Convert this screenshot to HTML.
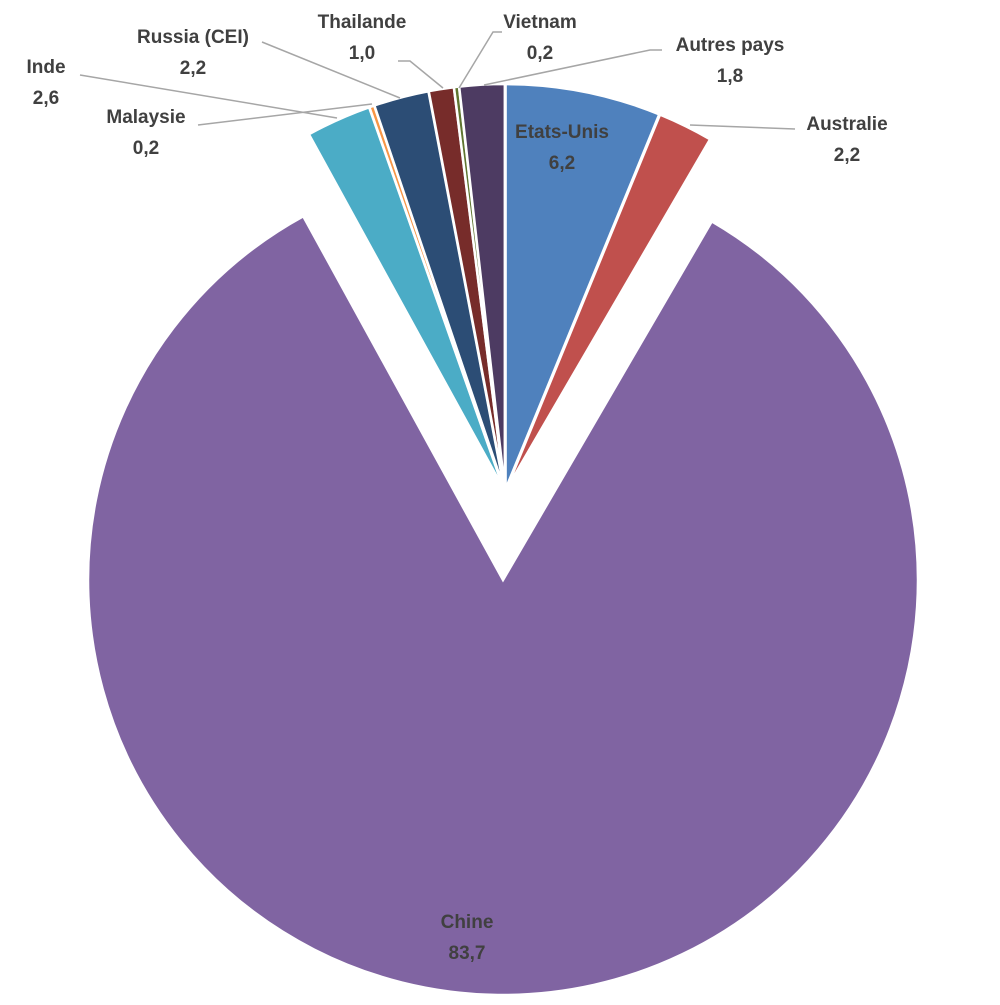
<!DOCTYPE html>
<html><head><meta charset="utf-8"><style>
html,body{margin:0;padding:0;background:#fff}
svg{display:block}
text{font-family:"Liberation Sans",sans-serif;font-weight:bold;font-size:19px;fill:#404040}
</style></head><body>
<svg id="chart" width="1000" height="1005" viewBox="0 0 1000 1005">
<g id="slices"></g>
<g id="leaders" stroke="#a6a6a6" stroke-width="1.5" fill="none">
<polyline points="80,75 337,118"/>
<polyline points="198,125 372,104"/>
<polyline points="262,42 400,98"/>
<polyline points="398,61 410,61 443,88"/>
<polyline points="502,32 493,32 459,88"/>
<polyline points="662,50 650,50 484,85"/>
<polyline points="795,129 690,125"/>
</g>
<g id="labels" text-anchor="middle"></g>
</svg>
<script>
const categories=["Etats-Unis","Australie","Chine","Inde","Malaysie","Russia (CEI)","Thailande","Vietnam","Autres pays"];
const values=[6.2,2.2,83.7,2.6,0.2,2.2,1.0,0.2,1.8];
const valueLabels=["6,2","2,2","83,7","2,6","0,2","2,2","1,0","0,2","1,8"];
const colors=["#4f81bd","#c0504d","#8064a2","#4bacc6","#f79646","#2c4d75","#772c2a","#5f7530","#4d3b62"];
const labelPos=[[562,138],[847,130],[467,928],[46,73],[146,123],[193,43],[362,28],[540,28],[730,51]];
const NS="http://www.w3.org/2000/svg";
const total=values.reduce((a,b)=>a+b,0);
function pt(cx,cy,a,r){return [cx+r*Math.sin(a),cy-r*Math.cos(a)];}
const g=document.getElementById('slices');
let acc=0;
values.forEach((v,i)=>{
  const a0=acc/total*2*Math.PI; acc+=v; const a1=acc/total*2*Math.PI;
  const mid=(a0+a1)/2;
  let cx,cy,R;
  if(i===2){cx=503;cy=580;R=415;}else{cx=505+3*Math.sin(mid);cy=492-3*Math.cos(mid);R=405;}
  const p0=pt(cx,cy,a0,R),p1=pt(cx,cy,a1,R);
  const large=(a1-a0)>Math.PI?1:0;
  const p=document.createElementNS(NS,'path');
  p.setAttribute('d',`M${cx},${cy} L${p0[0]},${p0[1]} A${R},${R} 0 ${large} 1 ${p1[0]},${p1[1]} Z`);
  p.setAttribute('fill',colors[i]);
  p.setAttribute('stroke','#fff');
  p.setAttribute('stroke-width','2.5');
  
  
  g.appendChild(p);
});
const lg=document.getElementById('labels');
categories.forEach((c,i)=>{
  const t=document.createElementNS(NS,'text');
  t.setAttribute('x',labelPos[i][0]);t.setAttribute('y',labelPos[i][1]);
  
  
  const s1=document.createElementNS(NS,'tspan');s1.setAttribute('x',labelPos[i][0]);s1.textContent=c;
  const s2=document.createElementNS(NS,'tspan');s2.setAttribute('x',labelPos[i][0]);s2.setAttribute('dy','31');s2.textContent=valueLabels[i];
  t.appendChild(s1);t.appendChild(s2);lg.appendChild(t);
});
</script>
</body></html>
